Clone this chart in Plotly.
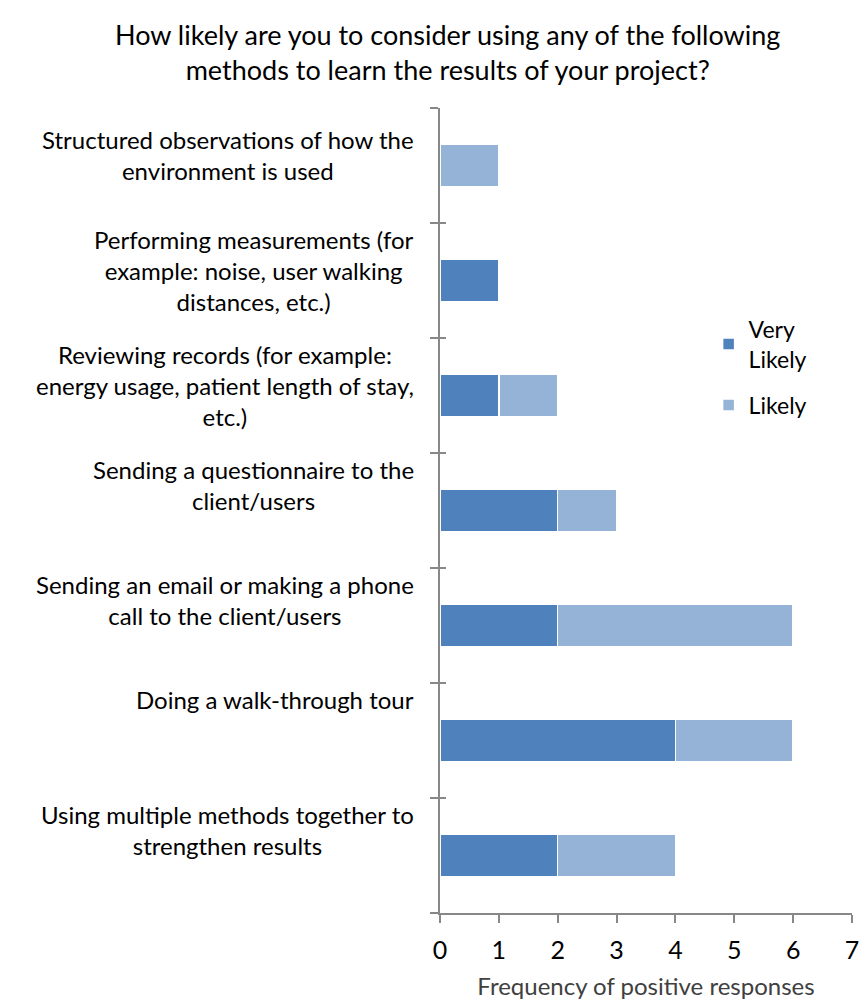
import plotly.graph_objects as go

categories = [
    "Structured observations of how the<br>environment is used",
    "Performing measurements (for<br>example: noise, user walking<br>distances, etc.)",
    "Reviewing records (for example:<br>energy usage, patient length of stay,<br>etc.)",
    "Sending a questionnaire to the<br>client/users",
    "Sending an email or making a phone<br>call to the client/users",
    "Doing a walk-through tour",
    "Using multiple methods together to<br>strengthen results",
]
very_likely = [0, 1, 1, 2, 2, 4, 2]
likely = [1, 0, 1, 1, 4, 2, 2]
x_ticks = [0, 1, 2, 3, 4, 5, 6, 7]

n = len(categories)
ypos = [n - 1 - i for i in range(n)]

FONT = "Lato"
fig = go.Figure()
fig.add_trace(go.Bar(
    y=ypos, x=very_likely, orientation="h", name="Very<br>Likely", legendgroup="vl",
    marker=dict(color="#4F81BD", line=dict(color="white", width=1.5)), width=0.37,
))
fig.add_trace(go.Bar(
    y=ypos, x=likely, orientation="h", name="Likely", legendgroup="l",
    marker=dict(color="#95B3D7", line=dict(color="white", width=1.5)), width=0.37,
))
# invisible trace for secondary axis ticks (crossing tick marks)
fig.add_trace(go.Scatter(x=[0], y=[0], yaxis="y2", mode="markers",
                         marker=dict(opacity=0), showlegend=False, hoverinfo="skip"))

bounds = [b - 0.5 for b in range(n + 1)]
for i, lab in enumerate(categories):
    fig.add_annotation(
        x=0, xref="paper", xanchor="right", xshift=-24,
        y=ypos[i] + 0.5, yref="y", yanchor="top", yshift=(-15 if i == 0 else 0),
        text=lab, showarrow=False, align="center",
        font=dict(family=FONT, size=24, color="#000"),
    )

fig.update_layout(
    width=868, height=1000,
    margin=dict(l=440, r=16, t=108, b=87),
    paper_bgcolor="white", plot_bgcolor="white",
    barmode="stack",
    xaxis=dict(
        range=[0, 7], tickvals=x_ticks, showgrid=False, zeroline=False,
        showline=True, linecolor="#888", linewidth=2,
        ticks="outside", ticklen=8, tickcolor="#888", tickwidth=2,
        ticklabelstandoff=6, automargin=False,
        tickfont=dict(family=FONT, size=25, color="#000"),
        title=dict(text="Frequency of positive responses", standoff=17,
                   font=dict(family=FONT, size=24, color="#404040")),
    ),
    yaxis=dict(
        range=[-0.5, n - 0.5], tickvals=bounds, ticktext=[""] * len(bounds),
        showgrid=False, zeroline=False, showline=True, linecolor="#888", linewidth=2,
        ticks="outside", ticklen=8, tickcolor="#888", tickwidth=2, automargin=False,
    ),
    yaxis2=dict(
        range=[-0.5, n - 0.5], tickvals=bounds, ticktext=[""] * len(bounds),
        overlaying="y", side="left", showgrid=False, zeroline=False, showline=False,
        ticks="inside", ticklen=6, tickcolor="#888", tickwidth=2, automargin=False,
    ),
    legend=dict(
        x=0.652, y=0.752, xanchor="left", yanchor="top",
        font=dict(family=FONT, size=23, color="#000"),
        traceorder="grouped", itemwidth=30, tracegroupgap=13,
        bgcolor="rgba(0,0,0,0)",
    ),
    bargap=0.63,
)

# Title as a centered two-line annotation above the plot area
fig.add_annotation(
    text="How likely are you to consider using any of the following<br>methods to learn the results of your project?",
    x=0.017, xref="paper", xanchor="center", y=1.025, yref="paper", yanchor="bottom",
    showarrow=False, align="center",
    font=dict(family=FONT, size=27, color="#000"),
)

fig.write_html("out.html")
